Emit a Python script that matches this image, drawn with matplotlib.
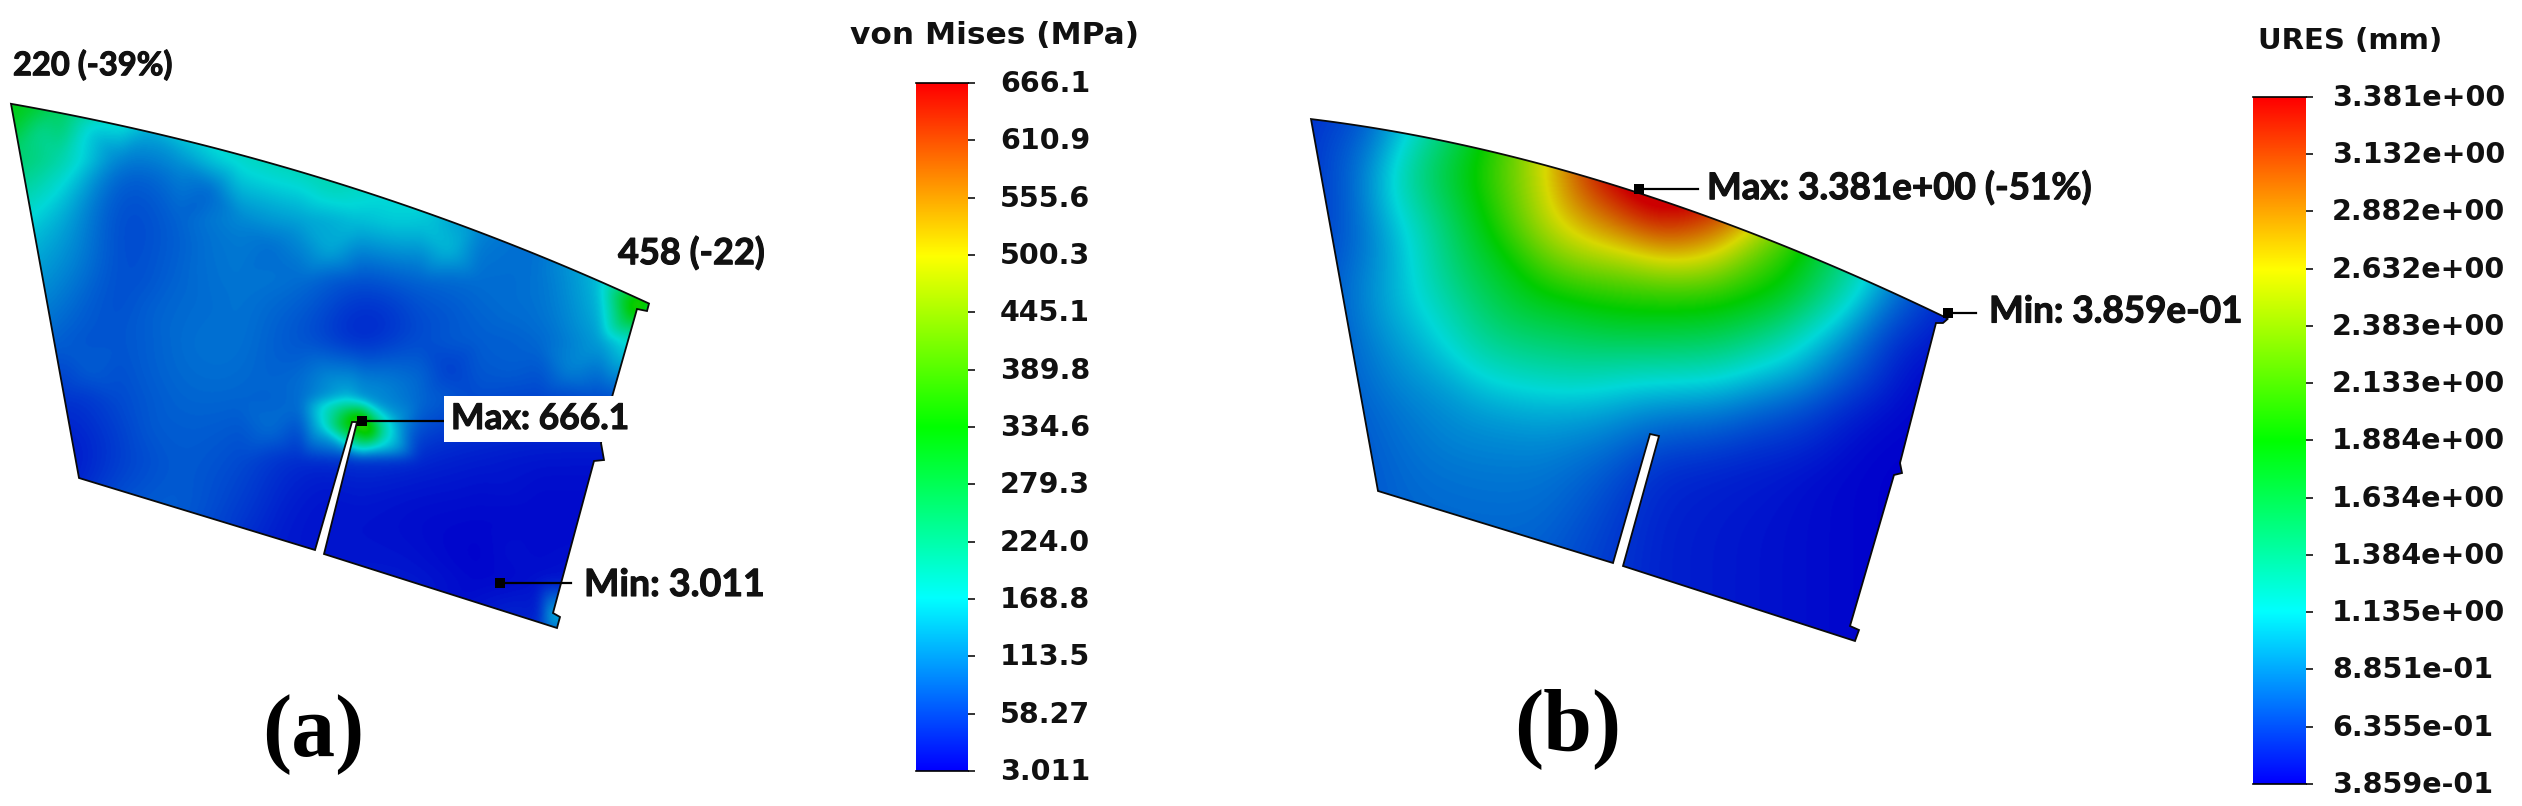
import numpy as np
import matplotlib
matplotlib.use("Agg")
import matplotlib.pyplot as plt
import matplotlib.tri as mtri
import matplotlib.patheffects as pe
from matplotlib.colors import LinearSegmentedColormap
from matplotlib.patches import Polygon, Rectangle
from matplotlib.transforms import ScaledTranslation

W, H = 2522, 806

# ---- colour-bar data
a_ticks = [3.011, 58.27, 113.5, 168.8, 224.0, 279.3, 334.6, 389.8, 445.1, 500.3, 555.6, 610.9, 666.1]
a_labels = ["3.011", "58.27", "113.5", "168.8", "224.0", "279.3", "334.6", "389.8", "445.1", "500.3", "555.6", "610.9", "666.1"]
b_ticks = [0.3859, 0.6355, 0.8851, 1.135, 1.384, 1.634, 1.884, 2.133, 2.383, 2.632, 2.882, 3.132, 3.381]
b_labels = ["3.859e-01", "6.355e-01", "8.851e-01", "1.135e+00", "1.384e+00", "1.634e+00", "1.884e+00",
            "2.133e+00", "2.383e+00", "2.632e+00", "2.882e+00", "3.132e+00", "3.381e+00"]

# ---- panel (a): outline and field (field = fraction of the scale)
a_arc = [(11,103),(128,129),(255,159),(357,187),(459,224),(561,268),(649,302)]
a_rest = [(647,311),(637,309),(612,397),(601,443),(604,460),(594,461),(553,613),(560,617),(557,628),
          (324,554),(357,422),(352,422),(315,550),(79,478)]
a_xs = [-60,0,60,120,180,240,300,360,420,480,540,600,660,720]
a_ys = [40,100,160,220,280,340,400,460,520,580,640,700]
a_field = [
 [.50,.50,.40,.34,.34,.34,.34,.34,.30,.22,.18,.18,.30,.40],
 [.50,.50,.42,.34,.32,.32,.32,.32,.30,.22,.18,.18,.30,.40],
 [.42,.40,.32,.10,.14,.28,.32,.32,.30,.18,.15,.20,.30,.40],
 [.30,.28,.20,.07,.11,.14,.18,.23,.26,.16,.12,.18,.38,.40],
 [.22,.20,.16,.08,.12,.14,.13,.08,.11,.13,.13,.22,.44,.40],
 [.17,.15,.11,.10,.13,.14,.09,.01,.08,.11,.12,.20,.22,.22],
 [.12,.10,.05,.09,.12,.12,.14,.22,.13,.09,.08,.08,.08,.08],
 [.05,.05,.01,.07,.11,.09,.04,.05,.04,.03,.02,.02,.02,.02],
 [.05,.05,.05,.12,.12,.07,.02,.02,.01,.01,.01,.01,.01,.01],
 [.05,.05,.05,.05,.05,.04,.03,.03,.03,.00,.02,.03,.03,.03],
 [.05,.05,.05,.05,.05,.05,.05,.05,.05,.05,.05,.05,.05,.05],
 [.05,.05,.05,.05,.05,.05,.05,.05,.05,.05,.05,.05,.05,.05],
]
a_extra_x = [362,372,362,345,340,385,362,375,400,320,345,352,552,640,626,632,20,40]
a_extra_y = [422,432,405,410,425,430,445,445,420,425,450,395,618,304,320,340,110,130]
a_extra_v = [.66,.60,.40,.42,.46,.32,.36,.28,.18,.22,.13,.24,.22,.58,.42,.28,.48,.34]

# ---- panel (b)
b_arc = [(1311,117),(1408,138),(1535,163),(1637,189),(1703,212),(1790,251),(1867,285),(1948,316)]
b_rest = [(1943,323),(1936,323),(1900,463),(1902,473),(1894,475),(1850,626),(1859,630),(1855,641),
          (1623,566),(1659,436),(1650,434),(1613,563),(1378,491)]
b_xs = [1240,1300,1360,1420,1480,1540,1600,1660,1720,1780,1840,1900,1960,2020]
b_ys = [50,110,170,230,290,350,410,470,530,590,650,710]
b_field = [
 [.05,.05,.08,.25,.45,.70,1.0,1.1,1.1,.95,.85,.6,.3,.2],
 [.05,.05,.08,.25,.45,.70,1.0,1.1,1.1,.95,.85,.6,.3,.2],
 [.05,.05,.13,.37,.53,.73,1.0,1.15,1.08,.92,.70,.5,.3,.2],
 [.06,.06,.12,.28,.47,.69,.82,.95,.88,.62,.40,.2,.1,.05],
 [.07,.07,.15,.26,.40,.50,.55,.57,.56,.50,.33,.12,.02,.02],
 [.07,.07,.13,.20,.31,.35,.37,.37,.36,.28,.15,.04,.01,.01],
 [.07,.07,.11,.15,.18,.20,.19,.15,.14,.10,.05,.01,.00,.00],
 [.07,.07,.10,.13,.14,.14,.11,.05,.04,.03,.01,.00,.00,.00],
 [.07,.07,.10,.12,.12,.12,.08,.04,.03,.02,.01,.00,.00,.00],
 [.07,.07,.10,.11,.11,.10,.07,.04,.03,.02,.01,.00,.00,.00],
 [.07,.07,.10,.11,.11,.10,.07,.04,.03,.02,.01,.00,.00,.00],
 [.07,.07,.10,.11,.11,.10,.07,.04,.03,.02,.01,.00,.00,.00],
]

scale_colors = ["#0000ff", "#00ffff", "#00ff00", "#ffff00", "#ff0000"]
shade_colors = ["#0000cc", "#00d8d8", "#00cc00", "#d8d800", "#cc0000"]
scale_cmap = LinearSegmentedColormap.from_list("scale", scale_colors)
shade_cmap = LinearSegmentedColormap.from_list("shade", shade_colors)

BOLDER = [pe.withStroke(linewidth=0.8, foreground="#111111")]
TEXT = dict(family="Lato", fontweight="bold", color="#111111", path_effects=BOLDER)
BAR = dict(family="DejaVu Sans", fontweight="bold", color="#111111", fontsize=20.5)

fig = plt.figure(figsize=(W/100, H/100), dpi=100, facecolor="white")
ax = fig.add_axes([0, 0, 1, 1])


def blur(z, sigma):
    r = int(3 * sigma)
    k = np.exp(-0.5 * (np.arange(-r, r + 1) / sigma) ** 2)
    k /= k.sum()
    z = np.pad(z, r, mode="edge")
    z = np.apply_along_axis(lambda v: np.convolve(v, k, mode="same"), 0, z)
    z = np.apply_along_axis(lambda v: np.convolve(v, k, mode="same"), 1, z)
    return z[r:-r, r:-r]


def smooth_outline(arc, rest):
    arc = np.asarray(arc, float)
    coef = np.polyfit(arc[:, 0], arc[:, 1], 3)
    ax_x = np.linspace(arc[0, 0], arc[-1, 0], 80)
    return np.vstack([np.c_[ax_x, np.polyval(coef, ax_x)], np.asarray(rest, float)])


def panel(xs, ys, field, arc, rest, ex=(), ey=(), ev=(), sigma=20):
    outline = smooth_outline(arc, rest)
    gx, gy = np.meshgrid(xs, ys)
    qx, qy = np.meshgrid(np.arange(xs[0], xs[-1] + 1), np.arange(ys[0], ys[-1] + 1))
    base_v = np.asarray(field, float).ravel()
    t0 = mtri.Triangulation(gx.ravel(), gy.ravel())
    base = np.ma.filled(mtri.LinearTriInterpolator(t0, base_v)(qx, qy), 0.0)
    zz = blur(base, sigma)
    if len(ex):
        t1 = mtri.Triangulation(np.r_[gx.ravel(), ex], np.r_[gy.ravel(), ey])
        full = np.ma.filled(mtri.LinearTriInterpolator(t1, np.r_[base_v, ev])(qx, qy), 0.0)
        zz = zz + blur(full - base, 6)
    zz = np.clip(zz, 0, 1)
    im = ax.imshow(zz, extent=(xs[0], xs[-1], ys[-1], ys[0]), origin="upper", cmap=shade_cmap,
                   vmin=0, vmax=1, aspect="auto", interpolation="bilinear", zorder=1)
    poly = Polygon(outline, closed=True, transform=ax.transData, fc="none", ec="none")
    ax.add_patch(poly)
    im.set_clip_path(poly)
    ax.add_patch(Polygon(outline, closed=True, fc="none", ec="#0a0a0a", lw=1.3, zorder=2))


panel(a_xs, a_ys, a_field, a_arc, a_rest, a_extra_x, a_extra_y, a_extra_v)
panel(b_xs, b_ys, b_field, b_arc, b_rest)


def probe(x, y, x2):
    ax.plot([x, x2], [y, y], color="black", lw=1.6, zorder=4)
    ax.add_patch(Rectangle((x-5, y-5), 10, 10, fc="black", ec="none", zorder=5))


probe(362, 421, 444)
probe(500, 583, 571)
probe(1639, 189, 1698)
probe(1948, 313, 1976)

ax.text(13, 65, "220 (-39%)", fontsize=23.5, va="center", ha="left", **TEXT)
ax.text(618, 253, "458 (-22)", fontsize=26, va="center", ha="left", **TEXT)
ax.text(451, 419, "Max: 666.1", fontsize=25.5, va="center", ha="left", zorder=6,
        bbox=dict(fc="white", ec="none", pad=5), **TEXT)
ax.text(584, 585, "Min: 3.011", fontsize=27, va="center", ha="left", **TEXT)
ax.text(1707, 188, "Max: 3.381e+00 (-51%)", fontsize=26.5, va="center", ha="left", **TEXT)
ax.text(1989, 312, "Min: 3.859e-01", fontsize=26.5, va="center", ha="left", **TEXT)
ax.text(313, 735, "(a)", fontsize=63, va="center", ha="center", family="Liberation Serif",
        fontweight="bold", color="black")
ax.text(1568, 729, "(b)", fontsize=63, va="center", ha="center", family="Liberation Serif",
        fontweight="bold", color="black")
ax.text(995, 36, "von Mises (MPa)", ha="center", va="center", **{**BAR, "fontsize": 22.5})
ax.text(2350, 41, "URES (mm)", ha="center", va="center", **{**BAR, "fontsize": 21})
ax.set_xlim(0, W)
ax.set_ylim(H, 0)
ax.axis("off")


def colorbar(x0, x1, y0, y1, ticks, labels, pad_px):
    cax = fig.add_axes([x0/W, 1 - y1/H, (x1-x0)/W, (y1-y0)/H])
    grad = np.linspace(0, 1, 256)[:, None]
    cax.imshow(grad, extent=(0, 1, ticks[0], ticks[-1]), origin="lower", aspect="auto", cmap=scale_cmap)
    cax.set_xticks([])
    cax.yaxis.tick_right()
    cax.set_yticks(ticks)
    cax.set_yticklabels(labels)
    cax.tick_params(axis="y", length=5, width=1.2, color="#111111", pad=pad_px*0.72)
    for lab in cax.get_yticklabels():
        lab.set(**BAR)
        lab.set_transform(lab.get_transform() + ScaledTranslation(0, 1.5/72, fig.dpi_scale_trans))
    for side in ("left", "right"):
        cax.spines[side].set_visible(False)
    for side in ("top", "bottom"):
        cax.spines[side].set_linewidth(1.2)


colorbar(916, 968, 83, 771, a_ticks, a_labels, 25)
colorbar(2253, 2306, 97, 784, b_ticks, b_labels, 19)

fig.savefig("out.png", dpi=100)
